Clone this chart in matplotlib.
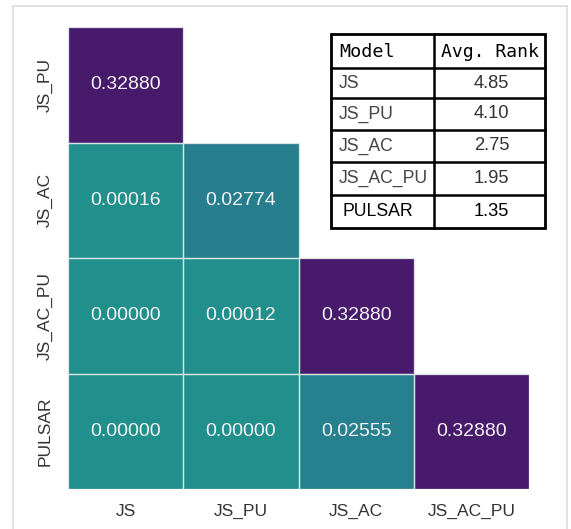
import numpy as np
import matplotlib
matplotlib.use("Agg")
import matplotlib.pyplot as plt
from matplotlib.colors import FuncNorm
from matplotlib.lines import Line2D

# ---- data ----
row_labels = ["JS_PU", "JS_AC", "JS_AC_PU", "PULSAR"]
col_labels = ["JS", "JS_PU", "JS_AC", "JS_AC_PU"]
pvalues = [
    [0.32880, None, None, None],
    [0.00016, 0.02774, None, None],
    [0.00000, 0.00012, 0.32880, None],
    [0.00000, 0.00000, 0.02555, 0.32880],
]
models = ["JS", "JS_PU", "JS_AC", "JS_AC_PU", "PULSAR"]
avg_rank = [4.85, 4.10, 2.75, 1.95, 1.35]

plt.rcParams["font.family"] = ["Liberation Sans", "DejaVu Sans"]

W, H = 571, 529
fig = plt.figure(figsize=(W / 100, H / 100), dpi=100)

# light frame (left, top, right)
fc = "#dcdcdc"
fig.add_artist(Line2D([13 / W, 13 / W], [0, 1 - 6 / H], transform=fig.transFigure, color=fc, lw=1.2))
fig.add_artist(Line2D([13 / W, 567 / W], [1 - 6 / H, 1 - 6 / H], transform=fig.transFigure, color=fc, lw=1.2))
fig.add_artist(Line2D([567 / W, 567 / W], [0, 1 - 6 / H], transform=fig.transFigure, color=fc, lw=1.2))

# ---- heatmap ----
ax = fig.add_axes([68 / W, 1 - 489 / H, (529 - 68) / W, (489 - 27) / H])
data = np.array([[np.nan if v is None else v for v in r] for r in pvalues], dtype=float)
masked = np.ma.masked_invalid(data)
cmap = plt.get_cmap("viridis_r")

P = 0.73


def fwd(v):
    v = np.asarray(v, dtype=float)
    return np.sign(v) * np.power(np.abs(v), P)


def inv(u):
    u = np.asarray(u, dtype=float)
    return np.sign(u) * np.power(np.abs(u), 1 / P)


A = 0.4034
norm = FuncNorm((fwd, inv), vmin=-A, vmax=A)
ax.pcolormesh(np.arange(len(col_labels) + 1), np.arange(len(row_labels) + 1), masked,
              cmap=cmap, norm=norm, linewidth=0)
for i in range(len(row_labels)):
    for j in range(len(col_labels)):
        v = pvalues[i][j]
        if v is not None:
            ax.add_patch(plt.Rectangle((j, i), 1, 1, facecolor="none",
                                       edgecolor="#d8e6e6", lw=0.9))
            ax.text(j + 0.5, i + 0.5, f"{v:.5f}", ha="center", va="center",
                    color="#f2f2f2", fontsize=14)
ax.set_xlim(0, len(col_labels))
ax.set_ylim(len(row_labels), 0)
ax.set_xticks(np.arange(len(col_labels)) + 0.5)
ax.set_xticklabels(col_labels, fontsize=12.5, color="#333333")
ax.set_yticks(np.arange(len(row_labels)) + 0.5)
ax.set_yticklabels(row_labels, fontsize=12.5, color="#333333", rotation=90, va="center")
ax.tick_params(length=0, pad=11)
for s in ax.spines.values():
    s.set_visible(False)

# ---- table ----
tx0, tx1 = 331, 545
ty = [34, 68, 98, 130, 162, 195, 228]
xdiv = 434
tax = fig.add_axes([0, 0, 1, 1])
tax.set_xlim(0, W)
tax.set_ylim(H, 0)
tax.axis("off")
tax.add_patch(plt.Rectangle((tx0, ty[0]), tx1 - tx0, ty[-1] - ty[0], facecolor="white",
                            edgecolor="black", lw=2))
for y in ty[1:-1]:
    tax.plot([tx0, tx1], [y, y], color="black", lw=1.8)
tax.plot([xdiv, xdiv], [ty[0], ty[-1]], color="black", lw=1.8)

tax.text(tx0 + 8, (ty[0] + ty[1]) / 2 + 1, "Model", family="DejaVu Sans Mono", fontsize=13.2,
         ha="left", va="center", color="black")
tax.text((xdiv + tx1) / 2, (ty[0] + ty[1]) / 2 + 1, "Avg. Rank", family="DejaVu Sans Mono",
         fontsize=13.0, ha="center", va="center", color="black")
for k, (m, r) in enumerate(zip(models, avg_rank)):
    yc = (ty[k + 1] + ty[k + 2]) / 2
    col = "black" if m == "PULSAR" else "#444444"
    xoff = 12 if m == "PULSAR" else 8
    tax.text(tx0 + xoff, yc, m, fontsize=12.7, ha="left", va="center", color=col)
    tax.text((xdiv + tx1) / 2 + 2, yc, f"{r:.2f}", fontsize=13.2, ha="center", va="center",
             color="black" if m == "PULSAR" else "#333333")

fig.savefig("out.png", dpi=100)
